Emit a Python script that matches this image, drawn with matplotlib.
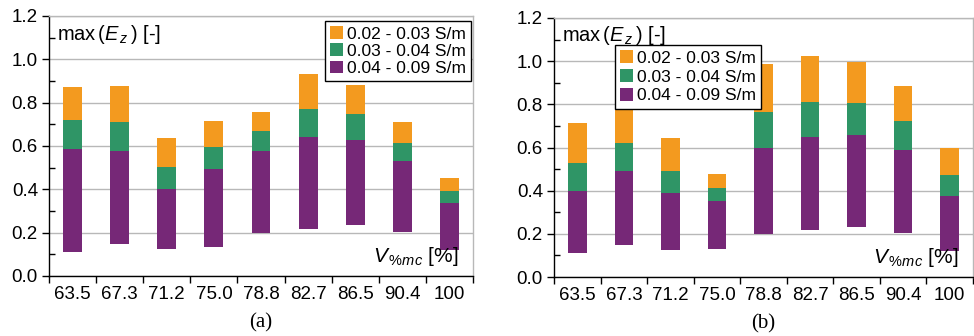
import matplotlib
matplotlib.use("Agg")
import matplotlib.pyplot as plt
import numpy as np
from matplotlib.ticker import FixedLocator, MultipleLocator
from matplotlib.patches import Patch

plt.rcParams['font.family'] = ['Liberation Sans', 'DejaVu Sans']
plt.rcParams['mathtext.fontset'] = 'custom'
plt.rcParams['mathtext.rm'] = 'Liberation Sans'
plt.rcParams['mathtext.it'] = 'Liberation Sans:italic'

categories = ["63.5", "67.3", "71.2", "75.0", "78.8", "82.7", "86.5", "90.4", "100"]
series_names = ["0.02 - 0.03 S/m", "0.03 - 0.04 S/m", "0.04 - 0.09 S/m"]
colors = ["#F39A1F", "#2F9566", "#762877"]

# Panel (a): levels of each floating stacked bar
a_base   = [0.112, 0.148, 0.126, 0.134, 0.198, 0.217, 0.235, 0.203, 0.120]
a_purple = [0.586, 0.577, 0.402, 0.494, 0.577, 0.642, 0.629, 0.531, 0.337]
a_green  = [0.720, 0.711, 0.503, 0.595, 0.669, 0.771, 0.748, 0.614, 0.392]
a_orange = [0.872, 0.877, 0.637, 0.715, 0.757, 0.932, 0.882, 0.711, 0.452]

# Panel (b)
b_base   = [0.111, 0.148, 0.125, 0.130, 0.199, 0.217, 0.231, 0.204, 0.120]
b_purple = [0.398, 0.491, 0.389, 0.352, 0.597, 0.648, 0.657, 0.588, 0.375]
b_green  = [0.528, 0.620, 0.491, 0.412, 0.764, 0.810, 0.805, 0.722, 0.472]
b_orange = [0.713, 0.777, 0.643, 0.477, 0.986, 1.023, 0.998, 0.884, 0.600]

fig = plt.figure(figsize=(9.74, 3.36), dpi=100)
axA = fig.add_axes([49/974, 60/336, 424/974, 260/336])
axB = fig.add_axes([554/974, 59/336, 419/974, 259/336])

def draw(ax, base, purple, green, orange, legend_loc, label, lspace):
    x = np.arange(len(categories))
    base = np.array(base); purple = np.array(purple)
    green = np.array(green); orange = np.array(orange)
    w = 0.4
    ax.bar(x, purple - base, bottom=base, width=w, color=colors[2], zorder=3)
    ax.bar(x, green - purple, bottom=purple, width=w, color=colors[1], zorder=3)
    ax.bar(x, orange - green, bottom=green, width=w, color=colors[0], zorder=3)
    ax.set_xlim(-0.5, len(categories) - 0.5)
    ax.set_ylim(0, 1.2)
    ax.set_xticks(x)
    ax.set_xticklabels(categories, fontsize=13.5)
    ax.xaxis.set_minor_locator(FixedLocator(np.arange(-0.5, len(categories), 1.0)))
    ax.tick_params(axis='x', which='major', length=0, pad=7)
    ax.tick_params(axis='x', which='minor', length=5, direction='out', width=1)
    ax.set_yticks(np.arange(0, 1.21, 0.2))
    ax.set_yticklabels([f"{v:.1f}" for v in np.arange(0, 1.21, 0.2)], fontsize=13.5)
    ax.yaxis.set_minor_locator(MultipleLocator(0.1))
    ax.tick_params(axis='y', which='major', length=5, direction='out', width=1, pad=3)
    ax.tick_params(axis='y', which='minor', length=4, direction='in', width=1)
    ax.grid(axis='y', which='major', color='#b8b8b8', linewidth=1.0, zorder=0)
    ax.set_axisbelow(True)
    for s in ['left', 'bottom']:
        ax.spines[s].set_color('black')
        ax.spines[s].set_linewidth(1.0)
    for s in ['top', 'right']:
        ax.spines[s].set_color('#b8b8b8')
        ax.spines[s].set_linewidth(1.0)
    ax.text(0.02, 0.975, r'max$\,(E_{\,z}\,)$ [-]', transform=ax.transAxes,
            fontsize=14.5, va='top', ha='left')
    ax.text(0.965, 0.03, r'$V_{\,\%mc}$ [%]', transform=ax.transAxes,
            fontsize=15, va='bottom', ha='right')
    handles = [Patch(facecolor=c, edgecolor='none') for c in colors]
    leg = ax.legend(handles, series_names, loc='upper left', bbox_to_anchor=legend_loc,
                    fontsize=12.5, frameon=True, fancybox=False, framealpha=1,
                    edgecolor='black', handlelength=0.75, handleheight=0.75,
                    handletextpad=0.2, labelspacing=lspace, borderpad=0.3,
                    borderaxespad=0)
    leg.get_frame().set_linewidth(1.0)
    ax.text(0.5, -0.145, label, transform=ax.transAxes, ha='center', va='top',
            fontsize=15, family='Liberation Serif')

draw(axA, a_base, a_purple, a_green, a_orange, (276/424, 1 - 5/260), "(a)", 0.1)
draw(axB, b_base, b_purple, b_green, b_orange, (61/419, 1 - 27/259), "(b)", 0.2)

fig.savefig("out.png", dpi=100)
